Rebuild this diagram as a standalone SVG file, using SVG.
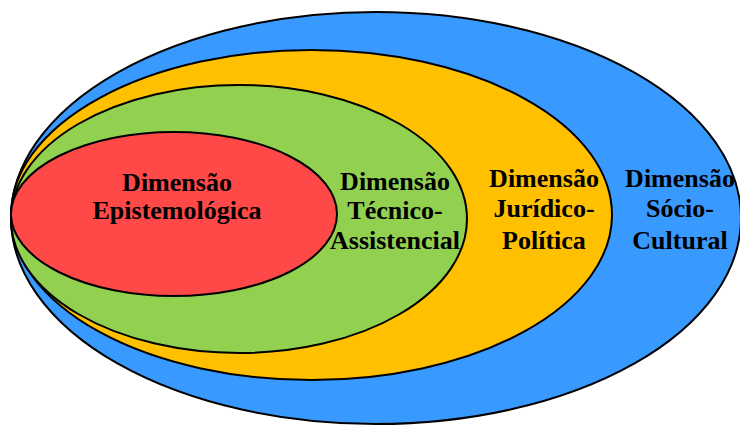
<svg xmlns="http://www.w3.org/2000/svg" width="740" height="425" viewBox="0 0 740 425">
  <style>
    .ring { stroke: #000000; stroke-width: 2; }
    .lbl { font-family: "Liberation Serif", "Times New Roman", serif; font-weight: bold; font-size: 26px; fill: #000000; text-anchor: middle; }
  </style>
  <rect x="0" y="0" width="740" height="425" fill="#ffffff"/>
  <g id="socio-cultural">
    <ellipse class="ring" cx="376" cy="218" rx="365" ry="206" fill="#3899FF"/>
    <text class="lbl" x="680" y="187">Dimensão</text>
    <text class="lbl" x="680" y="217">Sócio-</text>
    <text class="lbl" x="680" y="249">Cultural</text>
  </g>
  <g id="juridico-politica">
    <ellipse class="ring" cx="311.5" cy="215" rx="300.5" ry="165" fill="#FFC000"/>
    <text class="lbl" x="544" y="187">Dimensão</text>
    <text class="lbl" x="544" y="217">Jurídico-</text>
    <text class="lbl" x="544" y="249">Política</text>
  </g>
  <g id="tecnico-assistencial">
    <ellipse class="ring" cx="239" cy="219" rx="228" ry="134" fill="#92D050"/>
    <text class="lbl" x="395" y="190">Dimensão</text>
    <text class="lbl" x="395" y="219">Técnico-</text>
    <text class="lbl" x="395" y="249">Assistencial</text>
  </g>
  <g id="epistemologica">
    <ellipse class="ring" cx="174" cy="214" rx="163" ry="82" fill="#FF4848"/>
    <text class="lbl" x="177" y="191">Dimensão</text>
    <text class="lbl" x="177" y="219">Epistemológica</text>
  </g>
</svg>
